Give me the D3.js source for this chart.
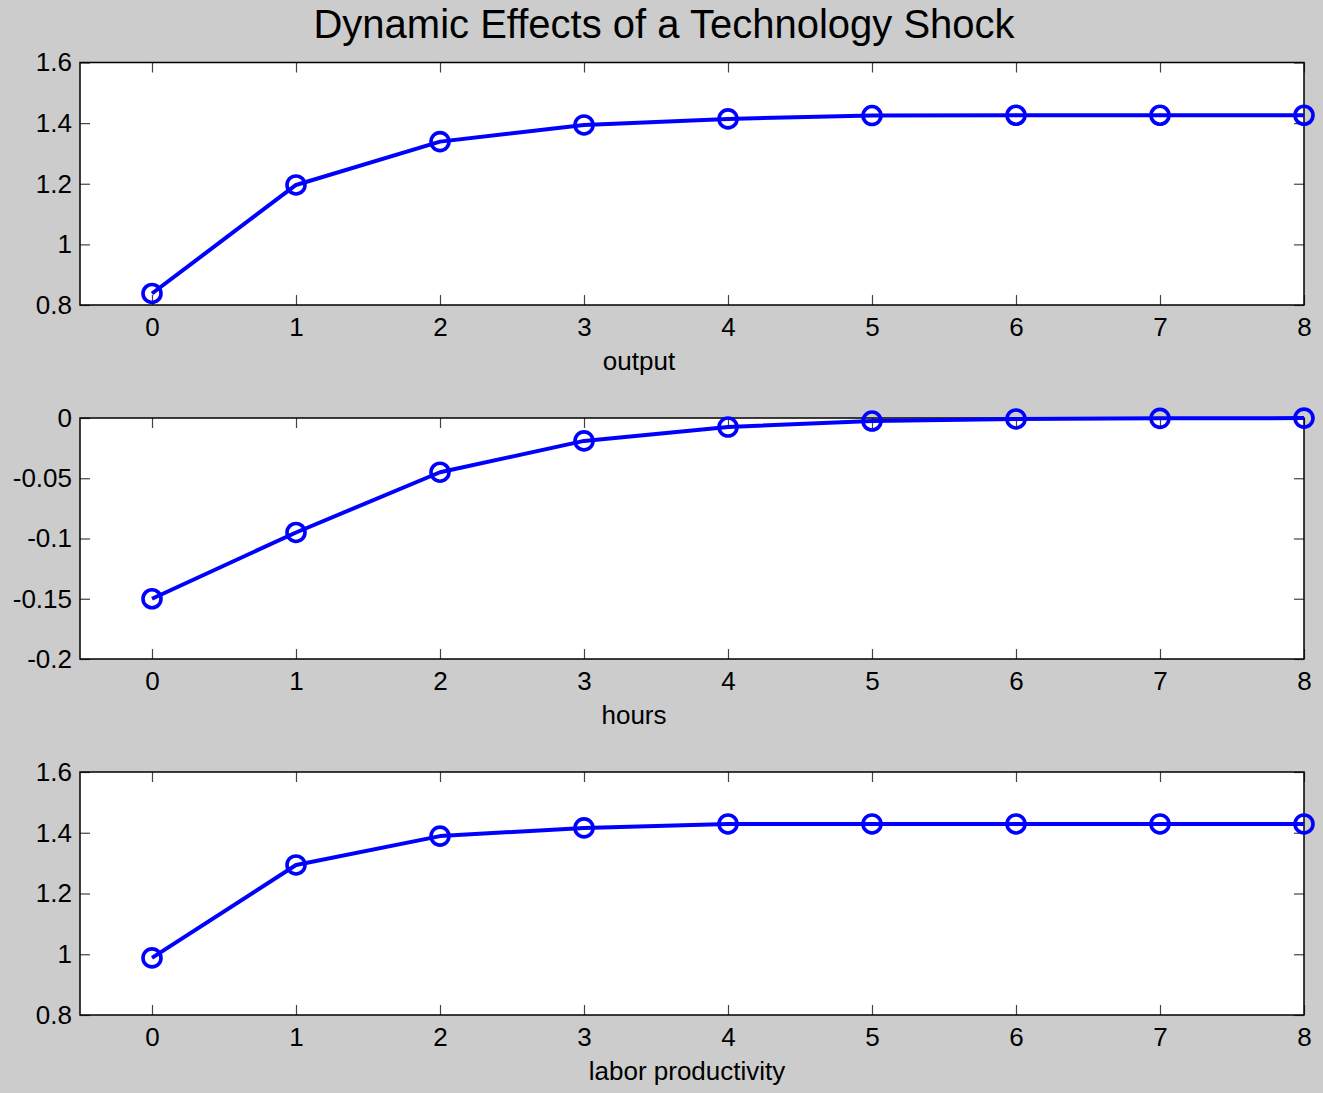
<!DOCTYPE html>
<html><head><meta charset="utf-8">
<script src="https://cdn.jsdelivr.net/npm/d3@7"></script>
<style>
html,body{margin:0;padding:0;background:#cccccc;}
svg{display:block;}
text{font-family:"Liberation Sans",Arial,Helvetica,sans-serif;fill:#000;}
</style></head>
<body>
<script>
const title = "Dynamic Effects of a Technology Shock";
const periods = [0,1,2,3,4,5,6,7,8];
const xTicks = [0,1,2,3,4,5,6,7,8];

const outputVals = [0.838,1.196,1.339,1.394,1.414,1.425,1.426,1.426,1.426];
const hoursVals = [-0.150,-0.095,-0.045,-0.019,-0.0075,-0.0025,-0.0008,-0.0003,-0.0001];
const prodVals = [0.988,1.294,1.389,1.416,1.429,1.429,1.429,1.429,1.429];

const outputTicks = [0.8,1,1.2,1.4,1.6];
const hoursTicks = [-0.2,-0.15,-0.1,-0.05,0];
const prodTicks = [0.8,1,1.2,1.4,1.6];

const labels = ["output","hours","labor productivity"];

const W = 1323, H = 1093;
const svg = d3.select("body").append("svg").attr("width",W).attr("height",H);
svg.append("rect").attr("width",W).attr("height",H).attr("fill","#cccccc");

svg.append("text").attr("x",664).attr("y",38).attr("text-anchor","middle")
  .style("font-size","40px").text(title);

const left = 80, right = 1304;
const fmt = d => String(+d.toFixed(2));
const panels = [
  {vals: outputVals, ticks: outputTicks, dom:[0.8,1.6], top:62.5, bottom:305, label:labels[0], lx:639},
  {vals: hoursVals, ticks: hoursTicks, dom:[-0.2,0], top:418, bottom:659, label:labels[1], lx:634},
  {vals: prodVals, ticks: prodTicks, dom:[0.8,1.6], top:772, bottom:1015, label:labels[2], lx:687}
];

const x = d3.scaleLinear().domain([-0.5,8]).range([left,right]);

panels.forEach(p => {
  const y = d3.scaleLinear().domain(p.dom).range([p.bottom,p.top]);
  const g = svg.append("g");
  g.append("rect").attr("x",left).attr("y",p.top).attr("width",right-left).attr("height",p.bottom-p.top).attr("fill","#fff");

  const tickLen = 10;
  const xb = g.append("g").attr("transform",`translate(0,${p.bottom})`)
    .call(d3.axisBottom(x).tickValues(xTicks).tickSize(-tickLen).tickFormat(d3.format("d")));
  const xt = g.append("g").attr("transform",`translate(0,${p.top})`)
    .call(d3.axisTop(x).tickValues(xTicks).tickSize(-tickLen).tickFormat(""));
  const yl = g.append("g").attr("transform",`translate(${left},0)`)
    .call(d3.axisLeft(y).tickValues(p.ticks).tickSize(-tickLen).tickFormat(fmt));
  const yr = g.append("g").attr("transform",`translate(${right},0)`)
    .call(d3.axisRight(y).tickValues(p.ticks).tickSize(-tickLen).tickFormat(""));
  [xb,xt,yl,yr].forEach(a => {
    a.select(".domain").remove();
    a.selectAll(".tick line").attr("stroke","#444").attr("stroke-width",1.2);
    a.selectAll(".tick text").style("font-size","26px").attr("fill","#000");
  });
  xb.selectAll(".tick text").attr("dy","0.71em").attr("y",13);
  yl.selectAll(".tick text").attr("x",-8);

  g.append("rect").attr("x",left).attr("y",p.top).attr("width",right-left).attr("height",p.bottom-p.top)
    .attr("fill","none").attr("stroke","#000").attr("stroke-width",1.5);

  const line = d3.line().x((d,i)=>x(periods[i])).y(d=>y(d));
  g.append("path").datum(p.vals).attr("d",line).attr("fill","none").attr("stroke","#0000ff")
    .attr("stroke-width",4).attr("stroke-linejoin","round");
  g.selectAll("circle.m").data(p.vals).enter().append("circle").attr("class","m")
    .attr("cx",(d,i)=>x(periods[i])).attr("cy",d=>y(d)).attr("r",9)
    .attr("fill","none").attr("stroke","#0000ff").attr("stroke-width",3.6);

  svg.append("text").attr("x",p.lx).attr("y",p.bottom+65).attr("text-anchor","middle")
    .style("font-size","26px").text(p.label);
});
</script>
</body></html>
